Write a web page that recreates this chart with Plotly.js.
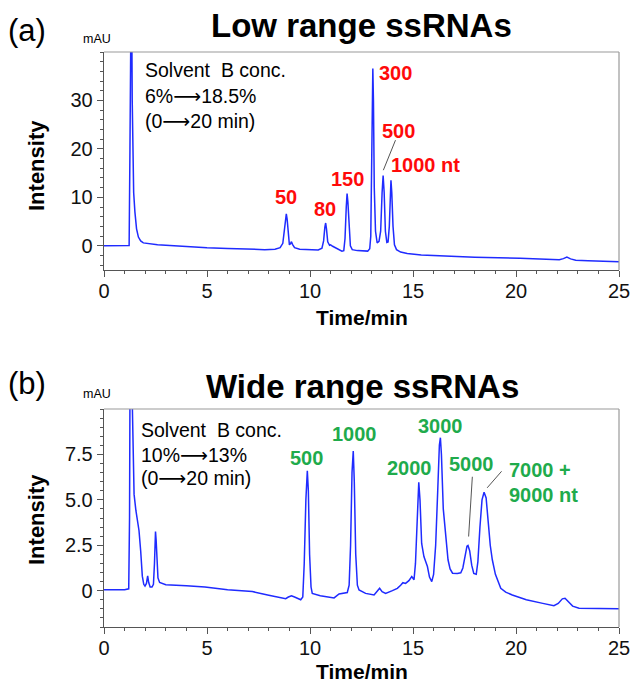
<!DOCTYPE html>
<html>
<head>
<meta charset="utf-8">
<script src="https://cdn.plot.ly/plotly-3.0.1.min.js"></script>
<style>html,body{margin:0;padding:0;background:#fff;}#chart{width:632px;height:684px;}</style>
</head>
<body>
<div id="chart"></div>
<script>
// ---- Panel (a): Low range ssRNAs ----
var timeA = [0,1.0,1.22,1.26,1.29,1.33,1.37,1.40,1.44,1.50,1.58,1.67,1.78,1.91,2.2,2.6,3.0,4.0,5.0,6.0,7.0,7.8,8.3,8.55,8.68,8.76,8.82,8.85,8.89,8.95,9.0,9.05,9.1,9.15,9.25,9.5,10.0,10.4,10.58,10.66,10.72,10.76,10.8,10.86,10.95,11.0,11.1,11.3,11.55,11.64,11.7,11.76,11.8,11.84,11.9,11.96,12.05,12.3,12.8,12.9,12.95,12.99,13.03,13.05,13.08,13.12,13.18,13.26,13.35,13.43,13.5,13.55,13.6,13.66,13.73,13.79,13.85,13.9,13.93,13.97,14.03,14.1,14.2,14.4,14.72,15.4,16.5,18,20.2,21.5,22.1,22.3,22.47,22.65,22.9,23.5,25];
var intA = [0,0,0.05,20,60,60,30,18,11,7,3.5,1.8,1.0,0.6,0.4,0.2,0.1,-0.2,-0.4,-0.55,-0.7,-0.8,-0.7,-0.4,0.5,3,6,6.6,5.5,2,0.2,0.4,0.85,0.3,-0.4,-0.7,-0.8,-0.85,-0.5,1,3.8,4.7,3.5,0.8,0.1,0.2,-0.1,-0.6,-1.1,-1.0,1.5,8,10.8,9,3,0,-0.8,-1.0,-1.1,-0.6,2,15,33,36.6,30,12,3,0.6,0.9,3,11,14.5,11,3,0.7,0.8,4,11.5,13.5,11,4,0.2,-0.8,-1.3,-1.6,-1.9,-2.15,-2.35,-2.6,-2.75,-2.9,-2.65,-2.35,-2.7,-3.0,-3.1,-3.3];
var labelsA = ["50","80","150","300","500","1000 nt"];
var labelPosA_t = [8.85,10.75,11.8,14.15,14.31,13.85];
var labelPosA_v = [10.06,7.68,13.84,35.7,23.76,16.6];

// ---- Panel (b): Wide range ssRNAs ----
var timeB = [0,1.0,1.2,1.24,1.27,1.33,1.37,1.42,1.46,1.55,1.63,1.70,1.78,1.86,1.93,1.99,2.06,2.12,2.17,2.24,2.33,2.40,2.45,2.5,2.53,2.57,2.62,2.7,3.0,4.0,4.9,6.0,7.2,8.0,8.82,8.95,9.1,9.25,9.55,9.65,9.72,9.8,9.87,9.92,9.98,10.05,10.11,10.5,10.92,11.17,11.41,11.81,11.9,11.97,12.04,12.1,12.15,12.22,12.3,12.38,12.7,13.11,13.25,13.38,13.5,13.67,14.0,14.24,14.4,14.51,14.64,14.8,14.94,15.05,15.12,15.2,15.28,15.34,15.42,15.53,15.62,15.7,15.8,15.91,16.0,16.1,16.2,16.28,16.33,16.38,16.47,16.59,16.7,16.8,16.92,17.15,17.32,17.42,17.52,17.62,17.67,17.75,17.85,17.95,18.07,18.15,18.25,18.35,18.45,18.55,18.65,18.75,18.85,19.0,19.26,19.5,19.82,20.5,21.3,21.84,22.05,22.25,22.38,22.55,22.75,23.06,24,25];
var intB = [0.05,0.05,0.1,4,14,14,10.5,7,5.3,4.4,3.8,3.3,2.2,0.8,0.35,0.25,0.4,0.82,0.45,0.2,0.2,0.35,1.5,3.25,2.8,1.3,0.7,0.45,0.33,0.27,0.2,0.05,-0.05,-0.25,-0.44,-0.35,-0.28,-0.35,-0.5,-0.35,1.5,5,6.6,5.5,2,0.2,-0.15,-0.28,-0.33,-0.4,-0.18,-0.1,0.3,2.5,6.5,7.68,6,2,0.3,0.04,-0.15,-0.24,-0.05,0.13,-0.05,-0.15,0.0,0.13,0.3,0.44,0.4,0.55,0.78,0.6,1.5,4,5.97,5,2.6,1.88,1.55,1.33,0.75,0.5,0.9,2.5,5.5,8,8.42,7.5,4.5,2.8,1.7,1.2,0.96,0.95,0.98,1.25,1.9,2.45,2.49,2.2,1.4,0.95,0.9,1.6,3.5,5.0,5.42,5.1,3.8,2.5,1.7,0.9,0.13,-0.08,-0.24,-0.5,-0.7,-0.83,-0.7,-0.45,-0.42,-0.6,-0.85,-0.97,-1.0,-1.0];
var labelsB = ["500","1000","2000","3000","5000"];
var labelPosB_t = [9.84,12.15,14.81,16.35,17.83];
var labelPosB_v = [7.31,8.6,6.76,9.06,6.99];
var labelsB2 = ["7000 +","9000 nt"];
var labelPosB2_v = [6.63,5.24];

var xTicks = [0,5,10,15,20,25];
var yTicksA = [0,10,20,30];
var yTicksB = [0,2.5,5,7.5];
var yTickTextB = ["0","2.5","5.0","7.5"];

// ---- layout helpers ----
var W = 632, H = 684, ML = 104, MR = 13, MT = 52, MB = 57;
var PW = W - ML - MR, PH = H - MT - MB;
function px(p){ return (p - ML) / PW; }
function py(p){ return (H - MB - p) / PH; }
var FONT = "Arial, 'Liberation Sans', sans-serif";
var BLUE = "#1f2bff", RED = "#ff0a0a", GREEN = "#1fab4c", AXC = "#555";
var ARROW = "<span style='font-family:DejaVu Sans'>\u27F6</span>";

function xax(anchor){
  return {domain:[0,1], anchor:anchor, range:[0,25], tickvals:xTicks, ticks:"outside", ticklen:6, tickwidth:1, tickcolor:AXC,
    showline:true, linecolor:AXC, linewidth:1.3, showgrid:false, zeroline:false, ticklabelstandoff:-3,
    tickfont:{size:20, color:"#111", family:FONT},
    minor:{dtick:1, ticks:"outside", ticklen:3, tickcolor:AXC, showgrid:false}};
}
function yax(anchor, dom, rng, tv, tt, mdt){
  var o = {domain:dom, anchor:anchor, range:rng, tickvals:tv, ticks:"outside", ticklen:6, tickwidth:1, tickcolor:AXC,
    showline:true, linecolor:AXC, linewidth:1.3, showgrid:false, zeroline:false,
    tickfont:{size:20, color:"#111", family:FONT},
    minor:{dtick:mdt, ticks:"outside", ticklen:3, tickcolor:AXC, showgrid:false}};
  if (tt) o.ticktext = tt;
  return o;
}

var domA = [py(270), 1], domB = [0, py(409)];

var data = [
  {x:timeA, y:intA, xaxis:"x", yaxis:"y", mode:"lines", line:{color:BLUE, width:1.5}, hoverinfo:"skip"},
  {x:timeB, y:intB, xaxis:"x2", yaxis:"y2", mode:"lines", line:{color:BLUE, width:1.5}, hoverinfo:"skip"}
];

var ann = [];
function pann(text, x, y, size, opts){
  var a = {text:text, xref:"paper", yref:"paper", x:px(x), y:py(y), showarrow:false,
    font:{size:size, color:"#000", family:FONT}, xanchor:"center", yanchor:"middle"};
  for (var k in (opts||{})) a[k] = opts[k];
  return a;
}
// panel a texts
ann.push(pann("(a)", 6, 31, 31, {xanchor:"left"}));
ann.push(pann("<b>Low range ssRNAs</b>", 361, 25, 33));
ann.push(pann("mAU", 97, 39, 12.5));
ann.push(pann("<b>Intensity</b>", 36, 166, 22, {textangle:-90}));
ann.push(pann("<b>Time/min</b>", 362, 317, 21));
ann.push(pann("Solvent\u00a0\u00a0B conc.", 143, 70, 19.5, {xanchor:"left"}));
ann.push(pann("6%"+ARROW+"18.5%", 143, 96.5, 19.5, {xanchor:"left"}));
ann.push(pann("(0"+ARROW+"20 min)", 143, 121.5, 19.5, {xanchor:"left"}));
// panel b texts
ann.push(pann("(b)", 6, 383, 31, {xanchor:"left"}));
ann.push(pann("<b>Wide range ssRNAs</b>", 362, 386, 33));
ann.push(pann("mAU", 97, 394, 12.5));
ann.push(pann("<b>Intensity</b>", 36, 520, 22, {textangle:-90}));
ann.push(pann("<b>Time/min</b>", 362, 671, 21));
ann.push(pann("Solvent\u00a0\u00a0B conc.", 138.5, 430, 19.5, {xanchor:"left"}));
ann.push(pann("10%"+ARROW+"13%", 138.5, 455, 19.5, {xanchor:"left"}));
ann.push(pann("(0"+ARROW+"20 min)", 138.5, 478.5, 19.5, {xanchor:"left"}));

for (var i = 0; i < labelsA.length; i++) {
  ann.push({text:"<b>"+labelsA[i]+"</b>", xref:"x", yref:"y", x:labelPosA_t[i], y:labelPosA_v[i], showarrow:false,
    xanchor: labelsA[i] === "1000 nt" ? "left" : "center", yanchor:"middle",
    font:{size:20, color:RED, family:FONT}});
}
for (var j = 0; j < labelsB.length; j++) {
  ann.push({text:"<b>"+labelsB[j]+"</b>", xref:"x2", yref:"y2", x:labelPosB_t[j], y:labelPosB_v[j], showarrow:false,
    xanchor:"center", yanchor:"middle", font:{size:20, color:GREEN, family:FONT}});
}
for (var k2 = 0; k2 < labelsB2.length; k2++) {
  ann.push({text:"<b>"+labelsB2[k2]+"</b>", xref:"x2", yref:"y2", x:19.58, y:labelPosB2_v[k2], showarrow:false,
    xanchor:"left", yanchor:"middle", font:{size:20, color:GREEN, family:FONT}});
}

var shapes = [
  // frame top/right
  {type:"line", xref:"x domain", yref:"y domain", x0:0, x1:1, y0:1, y1:1, line:{color:"#999", width:1.2}},
  {type:"line", xref:"x domain", yref:"y domain", x0:1, x1:1, y0:0, y1:1, line:{color:"#999", width:1.2}},
  {type:"line", xref:"x2 domain", yref:"y2 domain", x0:0, x1:1, y0:1, y1:1, line:{color:"#999", width:1.2}},
  {type:"line", xref:"x2 domain", yref:"y2 domain", x0:1, x1:1, y0:0, y1:1, line:{color:"#999", width:1.2}},
  // callout lines
  {type:"line", xref:"x", yref:"y", x0:14.15, y0:21.8, x1:13.56, y1:15.6, line:{color:"#555", width:1}},
  {type:"line", xref:"x2", yref:"y2", x0:17.88, y0:6.27, x1:17.7, y1:2.98, line:{color:"#555", width:1}},
  {type:"line", xref:"x2", yref:"y2", x0:19.3, y0:6.57, x1:18.6, y1:5.66, line:{color:"#555", width:1}}
];

var layout = {
  width:W, height:H, margin:{l:ML, r:MR, t:MT, b:MB, pad:0},
  paper_bgcolor:"#fff", plot_bgcolor:"#fff", showlegend:false,
  font:{family:FONT, color:"#111"},
  xaxis: xax("y"),
  yaxis: yax("x", domA, [-5,40], yTicksA, null, 2),
  xaxis2: xax("y2"),
  yaxis2: yax("x2", domB, [-2,10], yTicksB, yTickTextB, 0.5),
  annotations: ann,
  shapes: shapes
};

Plotly.newPlot("chart", data, layout, {staticPlot:true, displayModeBar:false});
</script>
</body>
</html>
